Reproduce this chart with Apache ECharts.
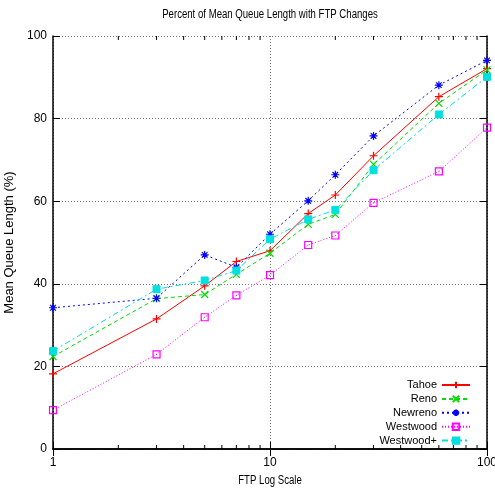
<!DOCTYPE html>
<html>
<head>
<meta charset="utf-8">
<script src="https://cdn.jsdelivr.net/npm/echarts@6/dist/echarts.min.js"></script>
<style>
  html, body { margin: 0; padding: 0; background: #fff; }
  #chart { width: 495px; height: 492px; }
</style>
</head>
<body>
<div id="chart"></div>
<script>
// FTP counts (log-scaled x axis)
const ftpCounts = [1, 3, 5, 7, 10, 15, 20, 30, 60, 100];

// Mean queue length (%) per TCP variant
const tahoe     = [18.2, 31.5, 39.5, 45.4, 48.0, 57.0, 61.5, 71.0, 85.3, 92.1];
const reno      = [22.4, 36.4, 37.4, 42.3, 47.4, 54.4, 56.8, 68.9, 83.7, 91.8];
const newreno   = [34.2, 36.5, 47.0, 44.0, 52.0, 60.1, 66.4, 75.8, 88.1, 94.1];
const westwood  = [9.4, 22.9, 31.9, 37.2, 42.1, 49.4, 51.7, 59.6, 67.2, 77.8];
const westwoodP = [23.7, 38.7, 40.8, 43.2, 50.8, 55.6, 57.9, 67.5, 81.0, 90.1];

const seriesNames = ['Tahoe', 'Reno', 'Newreno', 'Westwood', 'Westwood+'];

// Log-spaced minor tick positions between decades
const minorTickValues = [2, 3, 4, 5, 6, 7, 8, 9, 20, 30, 40, 50, 60, 70, 80, 90];

const titleText = 'Percent of Mean Queue Length with FTP Changes';
const xAxisTitle = 'FTP Log Scale';
const yAxisTitle = 'Mean Queue Length (%)';

const FONT = '"Liberation Sans", Arial, sans-serif';
const NARROW = 0.8; // horizontal squeeze for the condensed caption text

function pairs(xs, ys) { return xs.map((x, i) => [x, ys[i]]); }

const SYM_PLUS   = 'path://M0,5L10,5M5,0L5,10';
const SYM_CROSS  = 'path://M0,0L10,10M10,0L0,10';
const SYM_STAR   = 'path://M0,5L10,5M5,0L5,10M1.5,1.5L8.5,8.5M8.5,1.5L1.5,8.5';
const SYM_BOXDOT = 'path://M0,0L10,0L10,10L0,10Z M4.5,5L5.5,5';

function lineSeries(name, values, color, dash, symbol, filled, size) {
  return {
    name: name,
    type: 'line',
    data: pairs(ftpCounts, values),
    symbol: symbol,
    symbolSize: size,
    showAllSymbol: true,
    lineStyle: { color: color, width: 1, type: dash },
    itemStyle: filled ? { color: color, borderColor: color, borderWidth: 1 }
                      : { color: 'rgba(0,0,0,0)', borderColor: color, borderWidth: 1.2 },
    emphasis: { disabled: true },
    z: 3
  };
}

const chart = echarts.init(document.getElementById('chart'), null, { renderer: 'canvas' });

chart.setOption({
  animation: false,
  backgroundColor: '#fff',
  graphic: [
    {
      type: 'text',
      x: 270, y: 15,
      scaleX: NARROW,
      style: { text: titleText, fill: '#000', font: '12px ' + FONT, align: 'center', verticalAlign: 'middle' },
      silent: true
    },
    {
      type: 'text',
      x: 270, y: 481,
      scaleX: NARROW,
      style: { text: xAxisTitle, fill: '#000', font: '12px ' + FONT, align: 'center', verticalAlign: 'middle' },
      silent: true
    }
  ],
  grid: { left: 53, right: 8, top: 36, bottom: 43, show: false, outerBoundsMode: 'none', containLabel: false },
  legend: {
    data: seriesNames,
    orient: 'vertical',
    align: 'right',
    right: 19,
    top: 374.5,
    itemWidth: 28,
    itemHeight: 8,
    itemGap: 2.9,
    textStyle: { fontFamily: FONT, fontSize: 11, color: '#000' },
    selectedMode: false
  },
  xAxis: [
    {
      type: 'log',
      logBase: 10,
      min: 1,
      max: 100,
      axisLine: { show: true, lineStyle: { color: '#000', width: 1.5 } },
      axisTick: { show: true, inside: true, length: 7, lineStyle: { color: '#000' } },
      axisLabel: { fontFamily: FONT, fontSize: 12, color: '#000', margin: 8 },
      splitLine: { show: true, lineStyle: { color: '#777', type: [1, 2], width: 1 } },
      minorTick: { show: false },
      minorSplitLine: { show: false }
    },
    {
      type: 'log',
      logBase: 10,
      min: 1,
      max: 100,
      position: 'top',
      axisLine: { show: true, lineStyle: { color: '#000', width: 1.5 } },
      axisTick: { show: true, inside: true, length: 7, lineStyle: { color: '#000' } },
      axisLabel: { show: false },
      splitLine: { show: false }
    }
  ],
  yAxis: [
    {
      type: 'value',
      min: 0,
      max: 100,
      interval: 20,
      name: yAxisTitle,
      nameLocation: 'middle',
      nameGap: 36,
      nameTextStyle: { fontFamily: FONT, fontSize: 13, color: '#000' },
      axisLine: { show: true, lineStyle: { color: '#000', width: 1.5 } },
      axisTick: { show: true, inside: true, length: 7, lineStyle: { color: '#000' } },
      axisLabel: { fontFamily: FONT, fontSize: 12, color: '#000', margin: 6 },
      splitLine: { show: true, lineStyle: { color: '#777', type: [1, 2], width: 1 } }
    },
    {
      type: 'value',
      min: 0,
      max: 100,
      interval: 20,
      position: 'right',
      axisLine: { show: true, lineStyle: { color: '#000', width: 1.5 } },
      axisTick: { show: true, inside: true, length: 7, lineStyle: { color: '#000' } },
      axisLabel: { show: false },
      splitLine: { show: false }
    }
  ],
  series: [
    // minor ticks on the bottom and top x axes, placed through the log scale
    {
      name: 'minorTicks',
      type: 'custom',
      silent: true,
      xAxisIndex: 0,
      yAxisIndex: 0,
      data: minorTickValues.map(v => [v, 0]),
      encode: { x: 0, y: 1 },
      renderItem: function (params, api) {
        const v = api.value(0);
        const b = api.coord([v, 0]);
        const t = api.coord([v, 100]);
        const style = { stroke: '#000', lineWidth: 1 };
        return {
          type: 'group',
          children: [
            { type: 'line', shape: { x1: b[0], y1: b[1], x2: b[0], y2: b[1] - 4 }, style: style },
            { type: 'line', shape: { x1: t[0], y1: t[1], x2: t[0], y2: t[1] + 4 }, style: style }
          ]
        };
      },
      z: 2
    },
    lineSeries('Tahoe',     tahoe,     '#ff0000', 'solid',        SYM_PLUS,    false, 8),
    lineSeries('Reno',      reno,      '#00dd00', [4, 3],         SYM_CROSS,   false, 7),
    lineSeries('Newreno',   newreno,   '#0000ff', [2, 3],         SYM_STAR,    false, 8),
    lineSeries('Westwood',  westwood,  '#ff00ff', [1, 2],         SYM_BOXDOT,  false, 7),
    lineSeries('Westwood+', westwoodP, '#00e0e0', [6, 3, 2, 3],   'rect',      true,  7)
  ]
});
</script>
</body>
</html>
